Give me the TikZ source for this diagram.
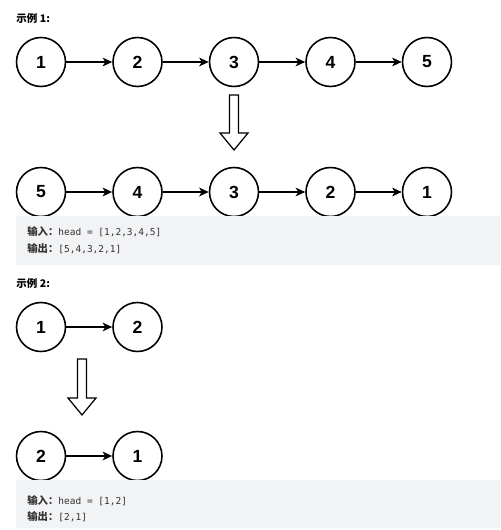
\documentclass[tikz,border=0pt]{standalone}
\usepackage{fontspec}
\setmainfont{Liberation Sans}
\setmonofont{DejaVu Sans Mono}
\newfontfamily\cjk{Noto Sans CJK SC}
\usepackage{tikz}
\usetikzlibrary{arrows.meta, positioning, calc}
\definecolor{boxGray}{HTML}{F2F3F5}
\definecolor{codeGray}{HTML}{333333}

\begin{document}
\begin{tikzpicture}[x=0.02cm, y=-0.02cm,
      nd/.style={draw, circle, line width=0.9pt, minimum size=0.98cm, inner sep=0pt,
        font=\fontsize{10}{12}\selectfont\bfseries},
      link/.style={line width=0.7pt, -{Stealth[length=5.5pt, width=5pt, inset=1.6pt]}},
      blockarrow/.style={draw, line width=0.7pt, line join=miter, fill=white},
      txt/.style={anchor=west, inner sep=0pt, text=codeGray},
      title/.style={anchor=west, inner sep=0pt, font=\cjk\fontsize{6}{7}\selectfont\bfseries}]
    \useasboundingbox (0,0) rectangle (500,530);
    % example 1
    \node[title] (t1) at (16,19) {示例 1:};
    \foreach \v [count=\i from 1] in {1,2,3,4,5}
      \node[nd] (a\i) at (41+\i*96.5-96.5, 62) {\v};
    \foreach \v [count=\i from 1] in {5,4,3,2,1}
      \node[nd] (b\i) at (41+\i*96.5-96.5, 192) {\v};
    \foreach \i [count=\j from 2] in {1,...,4} {
      \draw[link] (a\i) -- (a\j);
      \draw[link] (b\i) -- (b\j);
    }
    % down arrow
    \coordinate (d1) at (234,95);
    \draw[blockarrow] (d1) ++(-4.5,0) -- ++(0,38) -- ++(-9.5,0) -- ++(14,17)
      -- ++(14,-17) -- ++(-9.5,0) -- ++(0,-38) -- cycle;
    % result box
    \fill[boxGray] (16,216) rectangle (500,265);
    \node[txt] (in1) at (27,232) {{\cjk\fontsize{5.9}{7}\selectfont\bfseries 输入：}{\ttfamily\fontsize{5.4}{7}\selectfont head = [1,2,3,4,5]}};
    \node[txt] (out1) at (27,249) {{\cjk\fontsize{5.9}{7}\selectfont\bfseries 输出：}{\ttfamily\fontsize{5.4}{7}\selectfont [5,4,3,2,1]}};
    % example 2
    \node[title] (t2) at (16,284) {示例 2:};
    \foreach \v [count=\i from 1] in {1,2}
      \node[nd] (c\i) at (41+\i*96.5-96.5, 327) {\v};
    \foreach \v [count=\i from 1] in {2,1}
      \node[nd] (e\i) at (41+\i*96.5-96.5, 456) {\v};
    \draw[link] (c1) -- (c2);
    \draw[link] (e1) -- (e2);
    % down arrow
    \coordinate (d2) at (82,359);
    \draw[blockarrow] (d2) ++(-4.5,0) -- ++(0,39) -- ++(-9.5,0) -- ++(14,17)
      -- ++(14,-17) -- ++(-9.5,0) -- ++(0,-39) -- cycle;
    % result box
    \fill[boxGray] (16,480) rectangle (500,528);
    \node[txt] (in2) at (27,501) {{\cjk\fontsize{5.9}{7}\selectfont\bfseries 输入：}{\ttfamily\fontsize{5.4}{7}\selectfont head = [1,2]}};
    \node[txt] (out2) at (27,517) {{\cjk\fontsize{5.9}{7}\selectfont\bfseries 输出：}{\ttfamily\fontsize{5.4}{7}\selectfont [2,1]}};
  \end{tikzpicture}
\end{document}
